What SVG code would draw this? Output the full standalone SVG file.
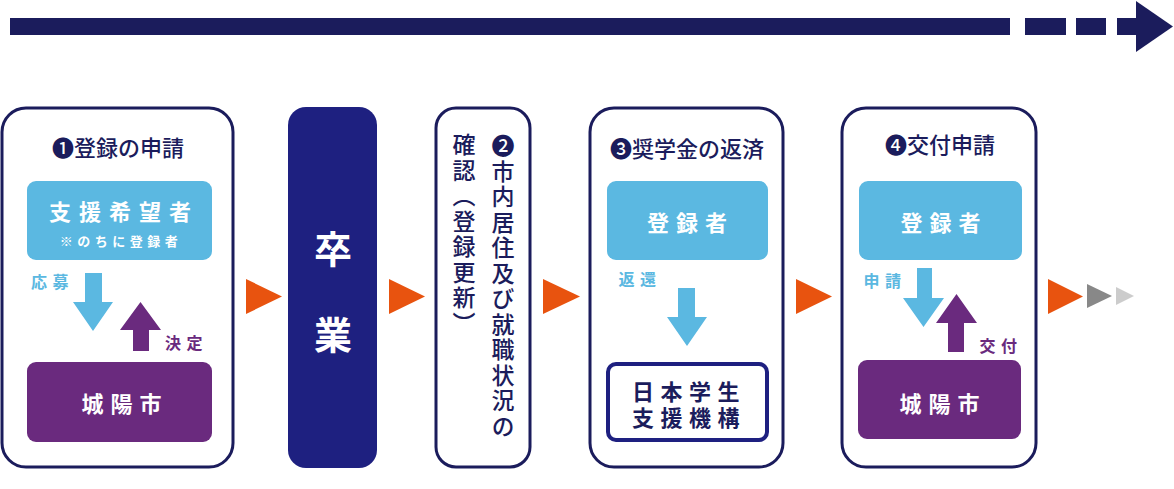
<svg xmlns="http://www.w3.org/2000/svg" width="1174" height="489" viewBox="0 0 1174 489">
<style>
.frame{fill:#fff;stroke:#1b1c5c;stroke-width:3}
.blue{fill:#5bb8e1}
.purple{fill:#6a2a7e}
.orange{fill:#e8530f}
.navy{fill:#1b1c5c}
.title{font-family:"Noto Sans CJK JP",sans-serif;font-weight:500;font-size:22px;fill:#1b1c5c;text-anchor:middle;dominant-baseline:central}
.wt{font-family:"Noto Sans CJK JP",sans-serif;font-weight:700;font-size:22px;fill:#fff;text-anchor:middle;dominant-baseline:central;letter-spacing:7px}
.sub{font-family:"Noto Sans CJK JP",sans-serif;font-weight:700;font-size:13px;fill:#fff;text-anchor:middle;dominant-baseline:central;letter-spacing:4.5px}
.lbl{font-family:"Noto Sans CJK JP",sans-serif;font-weight:700;font-size:16px;text-anchor:middle;dominant-baseline:central;letter-spacing:5.5px}
.vt{font-family:"Noto Sans CJK JP",sans-serif;font-weight:500;font-size:23px;fill:#1b1c5c;writing-mode:vertical-rl}
.big{font-family:"Noto Sans CJK JP",sans-serif;font-weight:700;font-size:38px;fill:#fff;text-anchor:middle;dominant-baseline:central}
.nt{font-family:"Noto Sans CJK JP",sans-serif;font-weight:700;font-size:22px;fill:#1b1c5c;text-anchor:middle;dominant-baseline:central;letter-spacing:6.5px}
</style>

<g id="timeline-arrow" class="navy">
<rect x="10" y="18" width="1000" height="17"/>
<rect x="1025" y="18" width="41" height="17"/>
<rect x="1076" y="18" width="30" height="17"/>
<rect x="1117" y="18" width="20" height="17"/>
<polygon points="1136,1 1173,26.5 1136,52"/>
</g>

<g id="step1">
<rect class="frame" x="2" y="108" width="231" height="359" rx="24"/>
<text class="title" x="118" y="146">❶登録の申請</text>
</g>
<g id="step1-applicant">
<rect class="blue" x="27" y="181" width="185" height="79" rx="9"/>
<text class="wt" x="124" y="210" style="letter-spacing:8px">支援希望者</text>
<text class="sub" x="121" y="240">※のちに登録者</text>
</g>
<g id="step1-city">
<rect class="purple" x="27" y="362" width="185" height="80" rx="9"/>
<text class="wt" x="125" y="402">城陽市</text>
</g>

<g id="graduation">
<rect class="navy" x="288" y="107" width="89" height="361" rx="18" style="fill:#1e2080"/>
<text class="big" x="333" y="246">卒</text>
<text class="big" x="333" y="332">業</text>
</g>

<g id="step2">
<rect class="frame" x="436" y="108" width="94" height="359" rx="20"/>
<text class="vt" x="503" y="134" style="letter-spacing:2.5px">❷市内居住及び就職状況の</text>
<text class="vt" x="464" y="133" style="letter-spacing:2.5px">確認（登録更新）</text>
</g>

<g id="step3">
<rect class="frame" x="590" y="108" width="193" height="359" rx="24"/>
<text class="title" x="687" y="147">❸奨学金の返済</text>
</g>
<g id="step3-registrant">
<rect class="blue" x="607" y="181" width="161" height="79" rx="9"/>
<text class="wt" x="690.5" y="221">登録者</text>
</g>
<g id="step3-jasso">
<rect x="608" y="364" width="159" height="76" rx="8" style="fill:#fff;stroke:#1e2080;stroke-width:4"/>
<text class="nt" x="689" y="390">日本学生<tspan x="689" dy="26">支援機構</tspan></text>
</g>

<g id="step4">
<rect class="frame" x="842" y="108" width="194" height="359" rx="24"/>
<text class="title" x="940" y="143">❹交付申請</text>
</g>
<g id="step4-registrant">
<rect class="blue" x="859" y="181" width="163" height="79" rx="9"/>
<text class="wt" x="944" y="221">登録者</text>
</g>
<g id="step4-city">
<rect class="purple" x="858" y="360" width="163" height="79" rx="9"/>
<text class="wt" x="943" y="402">城陽市</text>
</g>

<g id="connectors">
<polygon class="blue" points="85,273 102,273 102,302 113,302 93,331 73,302 85,302"/>
<polygon class="purple" points="133,351 149,351 149,330 161,330 140.5,302 120,330 133,330"/>
<text class="lbl" x="52.5" y="281" style="fill:#5bb8e1">応募</text>
<text class="lbl" x="186.5" y="342" style="fill:#6a2a7e">決定</text>

<polygon class="blue" points="678,288 695,288 695,317 707,317 687,346 667,317 678,317"/>
<text class="lbl" x="640" y="278" style="fill:#5bb8e1">返還</text>

<polygon class="blue" points="917,268 932,268 932,298 944,298 923.5,327 903,298 917,298"/>
<polygon class="purple" points="948,352 964,352 964,323 977,323 956.5,294 936,323 948,323"/>
<text class="lbl" x="885" y="280" style="fill:#5bb8e1">申請</text>
<text class="lbl" x="1001" y="345" style="fill:#6a2a7e">交付</text>

<polygon class="orange" points="246,279 282,296.5 246,314"/>
<polygon class="orange" points="389,279 425,296.5 389,314"/>
<polygon class="orange" points="543,279 580,296.5 543,314"/>
<polygon class="orange" points="796,279 832,296.5 796,314"/>
<polygon class="orange" points="1048,279 1083,296.5 1048,314"/>
<polygon points="1087,284 1112,296 1087,308" style="fill:#888"/>
<polygon points="1116,287 1134,296 1116,305" style="fill:#ccc"/>
</g>
</svg>
